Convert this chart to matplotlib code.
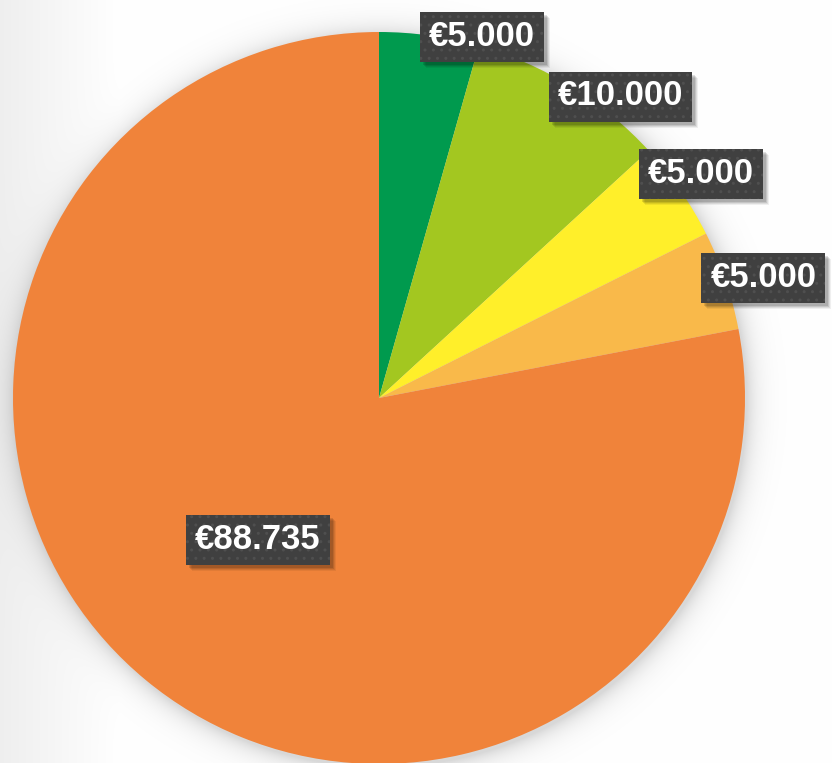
import numpy as np
import matplotlib
matplotlib.use("Agg")
import matplotlib.pyplot as plt
from matplotlib.patches import Rectangle

# ---- data ----
values = [5000, 10000, 5000, 5000, 88735]
labels = ["€5.000", "€10.000", "€5.000", "€5.000", "€88.735"]
colors = ["#009A4E", "#A3C720", "#FFEF2A", "#F9B94A", "#F0833A"]

W, H = 832, 763
fig = plt.figure(figsize=(W / 100, H / 100), dpi=100)
ax = fig.add_axes([0, 0, 1, 1])

cx, cy, R = 379, H - 398, 366

# background: light gray to the left fading to white + soft shadow around the pie
xx, yy = np.meshgrid(np.arange(W) + 0.5, np.arange(H) + 0.5)
yy_d = H - yy
bg = 1.0 - 0.065 * np.clip(1 - xx / 120.0, 0, 1)
d = np.hypot(xx - (cx + 2), yy_d - (cy - 3)) - R
shadow = np.where(d > 0, 0.15 * np.exp(-np.clip(d, 0, None) / 11.0), 0.15)
img = np.clip(bg - shadow, 0, 1)
ax.imshow(np.dstack([img, img, img]), extent=(0, W, 0, H), origin="upper",
          zorder=0, interpolation="bilinear")

ax.pie(values, colors=colors, startangle=90, counterclock=False,
       center=(cx, cy), radius=R, frame=True, wedgeprops=dict(linewidth=0))
ax.set_xlim(0, W)
ax.set_ylim(0, H)
ax.set_aspect("equal")
ax.axis("off")

# label placement: (angle clockwise from top in degrees, radius factor)
label_pos = [(15.9, 1.025), (38.7, 1.054), (55.2, 1.07), (72.7, 1.10), (220.4, 0.51)]
texts = []
for lab, (ang, rf) in zip(labels, label_pos):
    a = np.deg2rad(ang)
    x = cx + rf * R * np.sin(a)
    y = cy + rf * R * np.cos(a)
    t = ax.text(x, y + 1, lab, ha="center", va="center", color="white",
                fontsize=25, fontweight="bold", family="Liberation Sans",
                zorder=12)
    texts.append((t, x, y))

fig.canvas.draw()
renderer = fig.canvas.get_renderer()
padx, box_h = 9, 50
for t, x, y in texts:
    bb = t.get_window_extent(renderer)
    w = bb.width + 2 * padx
    # soft drop shadow
    for k, (off, al) in enumerate([(6, 0.06), (5, 0.08), (4, 0.10), (3, 0.12)]):
        ax.add_patch(Rectangle((x - w / 2 + off, y - box_h / 2 - off), w, box_h,
                               facecolor="black", alpha=al, linewidth=0, zorder=9))
    ax.add_patch(Rectangle((x - w / 2, y - box_h / 2), w, box_h,
                           facecolor="#404040", edgecolor="#4f4f4f", linewidth=0,
                           hatch="..", zorder=10))

fig.savefig("out.png", dpi=100)
